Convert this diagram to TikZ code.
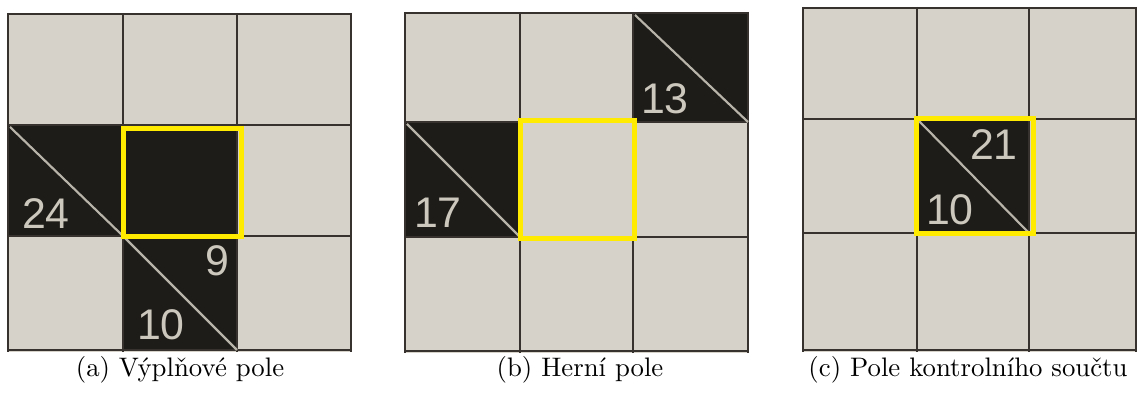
\documentclass[tikz,border=0pt]{standalone}
\usepackage{fontspec}
\newfontfamily\numfont{Liberation Sans}
\definecolor{paper}{RGB}{214,210,202}
\definecolor{ink}{RGB}{30,28,24}
\definecolor{gridc}{RGB}{55,50,45}
\definecolor{diagc}{RGB}{185,180,170}
\definecolor{numc}{RGB}{205,200,190}
\definecolor{hlc}{RGB}{255,235,0}
\tikzset{
  paperbox/.style={fill=paper},
  blackcell/.style={fill=ink},
  gridline/.style={draw=gridc,line width=1.1pt},
  diagline/.style={draw=diagc,line width=0.8pt},
  hlbox/.style={draw=hlc,line width=1.9pt},
  num/.style={text=numc,font=\numfont\fontsize{16}{18}\selectfont,inner sep=0pt,anchor=center},
  capt/.style={anchor=base,inner sep=0pt,font=\fontsize{10}{12}\selectfont}
}
\begin{document}
\begin{tikzpicture}[x=0.3734pt,y=-0.3734pt]
\useasboundingbox (0,0) rectangle (1137,396);
% ---------- panel (a)
\fill[paperbox] (7,13) rectangle (352,352);
\fill[blackcell] (8,125) rectangle (237,236);
\fill[blackcell] (123,236) rectangle (237,350);
\foreach \x in {8,123,237,351} \draw[gridline] (\x,13) -- (\x,352);
\foreach \y in {14,125,236,350} \draw[gridline] (7,\y) -- (352,\y);
\coordinate (a1) at (10,127); \coordinate (a2) at (123,236);
\coordinate (a3) at (125,238); \coordinate (a4) at (237,350);
\draw[diagline] (a1) -- (a2);
\draw[diagline] (a3) -- (a4);
\node[num] (n24) at (46,214) {24};
\node[num] (n9) at (217,261) {9};
\node[num] (n10a) at (161,325) {10};
\draw[hlbox] (123.5,128.5) rectangle (241.5,236.5);
\node[capt] (capa) at (180,377) {(a) Výplňové pole};
% ---------- panel (b)
\fill[paperbox] (404,12) rectangle (749,353);
\fill[blackcell] (633,13) rectangle (748,122);
\fill[blackcell] (405,122) rectangle (520,237);
\foreach \x in {405,520,633,748} \draw[gridline] (\x,12) -- (\x,353);
\foreach \y in {13,122,237,351} \draw[gridline] (404,\y) -- (749,\y);
\coordinate (b1) at (635,15); \coordinate (b2) at (748,122);
\coordinate (b3) at (407,124); \coordinate (b4) at (520,237);
\draw[diagline] (b1) -- (b2);
\draw[diagline] (b3) -- (b4);
\node[num] (n13) at (665,99) {13};
\node[num] (n17) at (438,213) {17};
\draw[hlbox] (520.5,120.5) rectangle (634.5,238.5);
\node[capt] (capb) at (580,377) {(b) Herní pole};
% ---------- panel (c)
\fill[paperbox] (802,7) rectangle (1137,352);
\fill[blackcell] (917,119) rectangle (1029,233);
\foreach \x in {803,917,1029,1136} \draw[gridline] (\x,7) -- (\x,352);
\foreach \y in {8,119,233,350} \draw[gridline] (802,\y) -- (1137,\y);
\coordinate (c1) at (919,121); \coordinate (c2) at (1029,233);
\draw[diagline] (c1) -- (c2);
\node[num] (n21) at (994,145) {21};
\node[num] (n10c) at (950,210) {10};
\draw[hlbox] (916.5,118.5) rectangle (1033.5,233.5);
\node[capt] (capc) at (968,377) {(c) Pole kontrolního součtu};
\end{tikzpicture}
\end{document}
